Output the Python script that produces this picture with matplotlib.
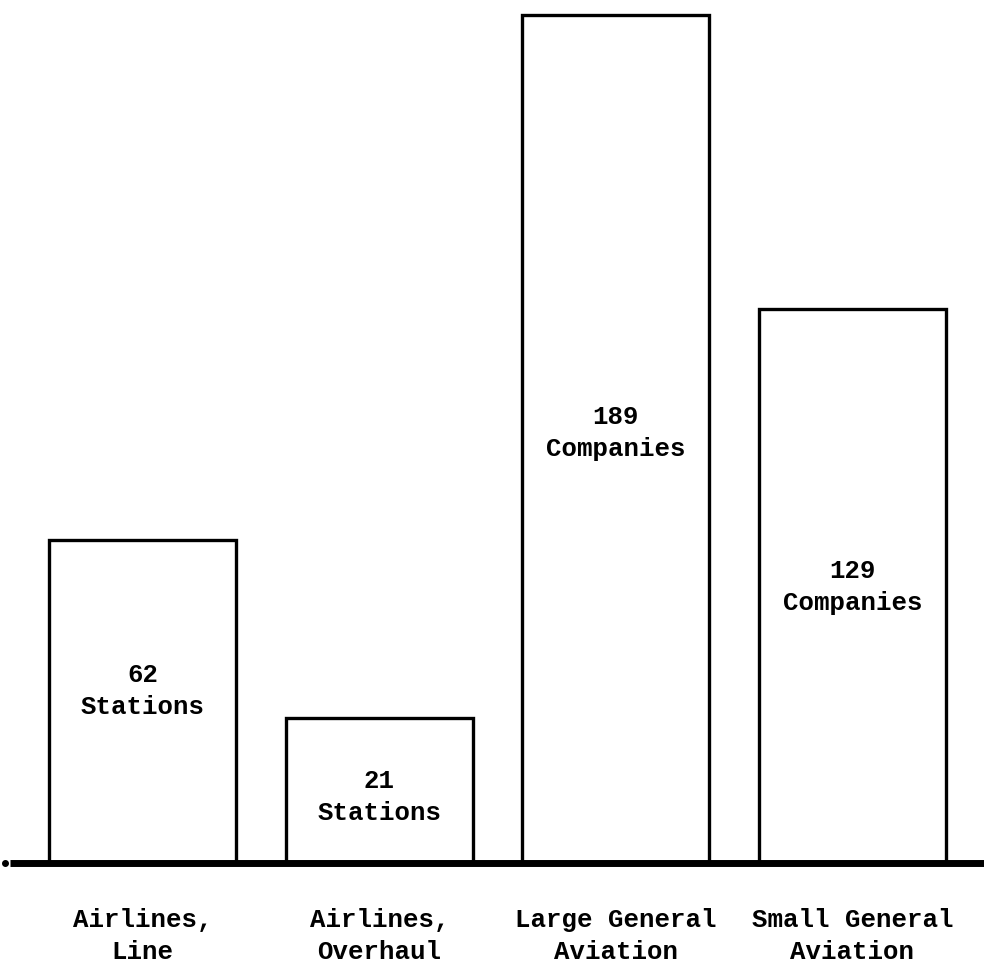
import matplotlib.pyplot as plt

# categories and values
categories = ['Airlines,\nLine', 'Airlines,\nOverhaul', 'Large General\nAviation', 'Small General\nAviation']
counts = [62, 21, 189, 129]
units = ['Stations', 'Stations', 'Companies', 'Companies']
# drawn bar heights (not proportional to counts in the original), in picture units
heights = [323, 145, 848, 554]
label_y = [172, 66, 430, 276]

fig = plt.figure(figsize=(9.84, 9.67), dpi=100)
ax = fig.add_axes([0, 0, 1, 1])

pos = list(range(len(categories)))
ax.bar(pos, heights, width=0.79, color='white', edgecolor='black', linewidth=2.4, zorder=2)

# thick baseline
ax.plot([-0.56, 3.6], [0, 0], color='black', linewidth=5, solid_capstyle='butt', zorder=3)
ax.plot([-0.58], [0], marker='o', color='black', markersize=4, zorder=3)

font = dict(family='Liberation Mono', fontweight='bold', fontsize=18.5)
for i in pos:
    ax.text(i, label_y[i], f'{counts[i]}\n{units[i]}', ha='center', va='center',
            linespacing=1.45, zorder=4, **font)
    ax.text(i, -73, categories[i], ha='center', va='center', linespacing=1.45, **font)

ax.set_xlim(-0.603, 3.556)
ax.set_ylim(-104, 863)
ax.axis('off')

plt.savefig('out.png', dpi=100)
